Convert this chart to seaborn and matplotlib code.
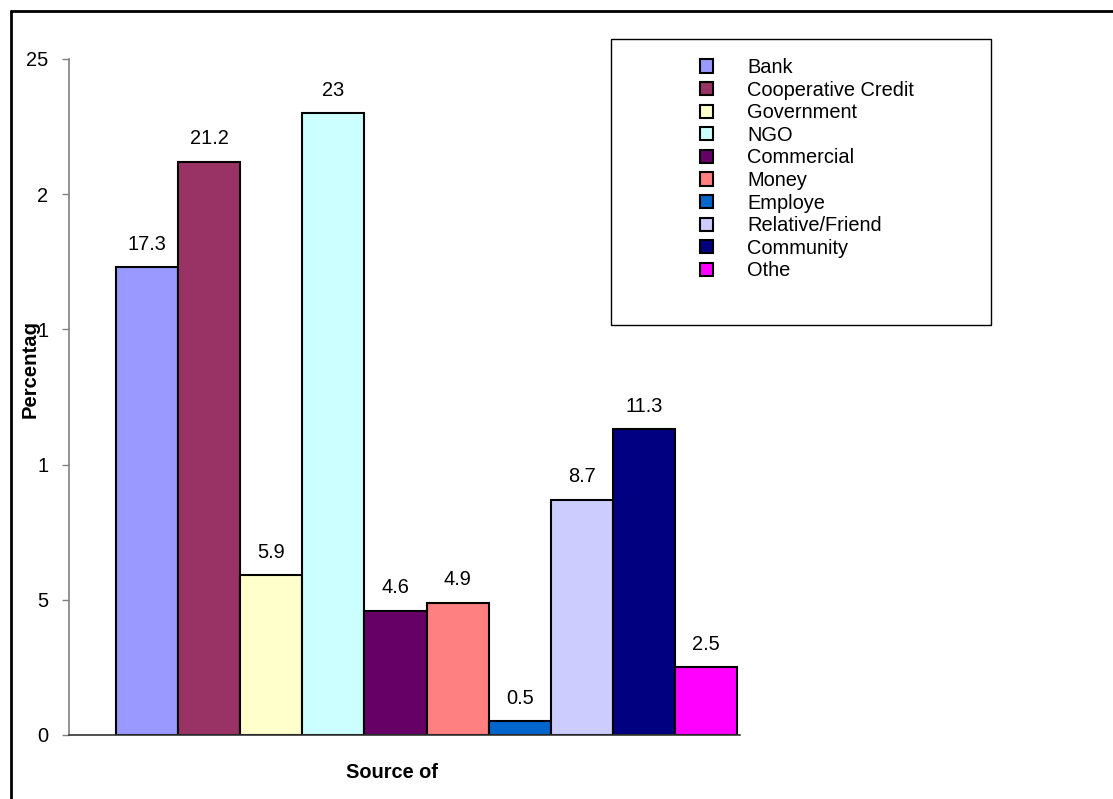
import matplotlib
matplotlib.use("Agg")
import matplotlib.pyplot as plt
import seaborn as sns
import pandas as pd
from matplotlib.patches import Patch, Rectangle
from matplotlib.lines import Line2D

sources = ["Bank", "Cooperative Credit", "Government", "NGO", "Commercial",
           "Money", "Employe", "Relative/Friend", "Community", "Othe"]
percentages = [17.3, 21.2, 5.9, 23, 4.6, 4.9, 0.5, 8.7, 11.3, 2.5]
colors = ["#9999FF", "#993366", "#FFFFCC", "#CCFFFF", "#660066",
          "#FF8080", "#0066CC", "#CCCCFF", "#000080", "#FF00FF"]
ytick_values = [0, 5, 10, 15, 20, 25]
ytick_labels = ["0", "5", "1", "1", "2", "25"]

df = pd.DataFrame({"source": sources, "pct": percentages})

sns.set_theme(style="white")
plt.rcParams["font.family"] = ["Liberation Sans", "DejaVu Sans"]
plt.rcParams["text.color"] = "black"
plt.rcParams["ytick.labelcolor"] = "black"

W, H = 1113, 799
fig = plt.figure(figsize=(W / 100, H / 100), dpi=100)
fig.patch.set_facecolor("white")

ax = fig.add_axes([69 / W, 1 - 735 / H, (740 - 69) / W, (735 - 59) / H])
sns.barplot(data=df, x="source", y="pct", hue="source", palette=colors,
            width=1.0, dodge=False, legend=False, ax=ax,
            edgecolor="black", linewidth=1.5, saturation=1)

ax.set_xlim(-1.257, 9.548)
ax.set_ylim(0, 25)
ax.set_xticks([])
ax.set_yticks(ytick_values)
ax.set_yticklabels(ytick_labels, fontsize=14.4, color="black")
ax.tick_params(axis="y", length=5, width=1, color="#808080", pad=10, left=True)
ax.set_xlabel("")
ax.set_ylabel("")
for side in ("top", "right"):
    ax.spines[side].set_visible(False)
ax.spines["left"].set_color("#808080")
ax.spines["left"].set_linewidth(1.2)
ax.spines["bottom"].set_color("#333333")
ax.spines["bottom"].set_linewidth(1.2)
ax.set_facecolor("white")

# value labels above each bar
for i, v in enumerate(percentages):
    ax.annotate(f"{v:g}", xy=(i, v), xytext=(0, 16.5), textcoords="offset points",
                ha="center", va="center", fontsize=14.4, color="black")

# axis titles
fig.text(30 / W, 1 - 369 / H, "Percentag", rotation=90, ha="center", va="center",
         fontsize=14.6, fontweight="bold", color="black")
fig.text(392 / W, 1 - 773 / H, "Source of", ha="center", va="center",
         fontsize=14.4, fontweight="bold", color="black")

# legend box
fig.patches.append(Rectangle((611 / W, 1 - 325 / H), (991 - 611) / W, (325 - 39) / H,
                             transform=fig.transFigure, facecolor="white",
                             edgecolor="black", linewidth=1.0, zorder=0))
handles = [Patch(facecolor=c, edgecolor="black", linewidth=1.5) for c in colors]
leg = fig.legend(handles, sources, loc="upper left",
                 bbox_to_anchor=(700 / W, 1 - 58 / H), frameon=False,
                 fontsize=14.4, handlelength=0.65, handleheight=0.65,
                 handletextpad=1.7, labelspacing=0.18, borderpad=0, borderaxespad=0)
for t in leg.get_texts():
    t.set_color("black")

# outer frame lines
fig.add_artist(Line2D([11 / W, 11 / W], [0, 1 - 11 / H], transform=fig.transFigure,
                      color="black", linewidth=2))
fig.add_artist(Line2D([11 / W, 1], [1 - 11 / H, 1 - 11 / H], transform=fig.transFigure,
                      color="black", linewidth=2))

fig.savefig("out.png", dpi=100, facecolor="white")
